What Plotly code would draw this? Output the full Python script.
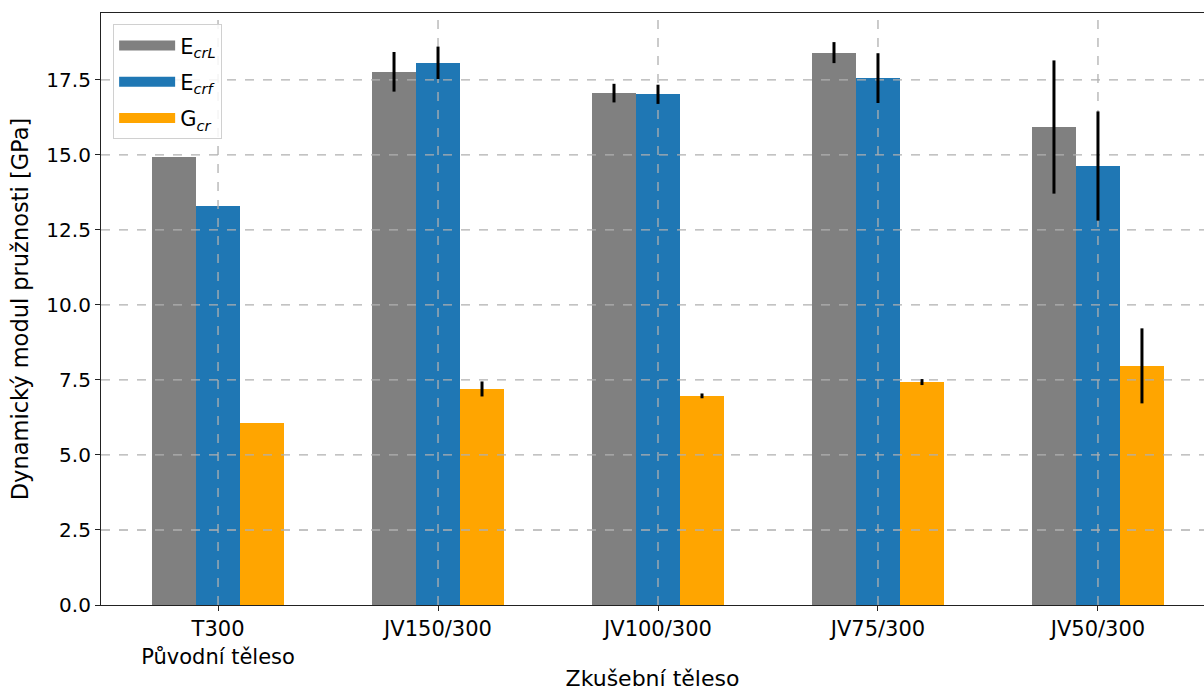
import plotly.graph_objects as go

categories = ["T300<br>Původní těleso", "JV150/300", "JV100/300", "JV75/300", "JV50/300"]
E_crL = [14.93, 17.77, 17.06, 18.41, 15.93]
E_crL_err = [0, 0.66, 0.31, 0.35, 2.22]
E_crf = [13.30, 18.07, 17.02, 17.56, 14.63]
E_crf_err = [0, 0.54, 0.32, 0.83, 1.82]
G_cr = [6.07, 7.20, 6.97, 7.43, 7.97]
G_cr_err = [0, 0.25, 0.08, 0.10, 1.25]
y_ticks = [0, 2.5, 5, 7.5, 10, 12.5, 15, 17.5]

names = ["E<sub><i>crL</i></sub>", "E<sub><i>crf</i></sub>", "G<sub><i>cr</i></sub>"]
colors = ["#808080", "#1f77b4", "#ffa500"]
series = [(E_crL, E_crL_err), (E_crf, E_crf_err), (G_cr, G_cr_err)]
offsets = [-0.2, 0.0, 0.2]

x_range = [-0.532, 4.482]
y_range = [0, 19.73]

idx = list(range(len(categories)))
fig = go.Figure()
for (vals, errs), name, col, off in zip(series, names, colors, offsets):
    fig.add_trace(go.Bar(
        x=[i + off for i in idx], y=vals, width=0.2, name=name, showlegend=False,
        marker=dict(color=col, line=dict(width=0)),
    ))

# dashed grid drawn above the bars, below the error bars
gx, gy = [], []
for t in y_ticks[1:]:
    gx += [x_range[0], x_range[1], None]
    gy += [t, t, None]
for i in idx:
    gx += [i, i, None]
    gy += [y_range[0], y_range[1], None]
fig.add_trace(go.Scatter(x=gx, y=gy, mode="lines", showlegend=False, hoverinfo="skip",
                         line=dict(color="#b0b0b0", width=1.3, dash="dash")))

for (vals, errs), off in zip(series, offsets):
    fig.add_trace(go.Scatter(
        x=[i + off for i in idx], y=vals, mode="markers", showlegend=False,
        marker=dict(size=0.1, opacity=0),
        error_y=dict(type="data", array=errs, visible=True, color="black",
                     thickness=3, width=0),
    ))

# legend patches
for k, (name, col) in enumerate(zip(names, colors)):
    fig.add_trace(go.Scatter(
        x=[None], y=[None], mode="lines", name=name, legendgroup=f"g{k}",
        line=dict(color=col, width=15),
    ))

font = "DejaVu Sans"
fig.update_layout(
    width=1204, height=691,
    margin=dict(l=101, r=0, t=13, b=86),
    paper_bgcolor="white", plot_bgcolor="white",
    font=dict(family=font, size=21, color="black"),
    bargap=0, barmode="overlay",
    showlegend=True,
    legend=dict(x=0.011, y=0.981, xanchor="left", yanchor="top",
                bgcolor="rgba(255,255,255,0.85)", bordercolor="#d0d0d0", borderwidth=1,
                font=dict(size=21), tracegroupgap=6, itemwidth=56),
    xaxis=dict(range=x_range, tickmode="array", tickvals=idx, ticktext=categories,
               showgrid=False, zeroline=False, showline=True, linecolor="#222", linewidth=1.2,
               mirror=True, ticks="outside", ticklen=5, tickcolor="#222",
               title=dict(text="Zkušební těleso", standoff=5, font=dict(family=font, size=22)),
               tickfont=dict(size=21)),
    yaxis=dict(range=y_range, tickmode="array", tickvals=y_ticks,
               ticktext=[f"{v:.1f}" for v in y_ticks],
               showgrid=False, zeroline=False, showline=True, linecolor="#222", linewidth=1.2,
               ticks="outside", ticklen=5, tickcolor="#222",
               title=dict(text="Dynamický modul pružnosti [GPa]", standoff=11,
                          font=dict(family=font, size=22.5)),
               tickfont=dict(size=20)),
)
fig.write_html("out.html", config={"displayModeBar": False},
               post_script="document.body.style.margin='0px';")
